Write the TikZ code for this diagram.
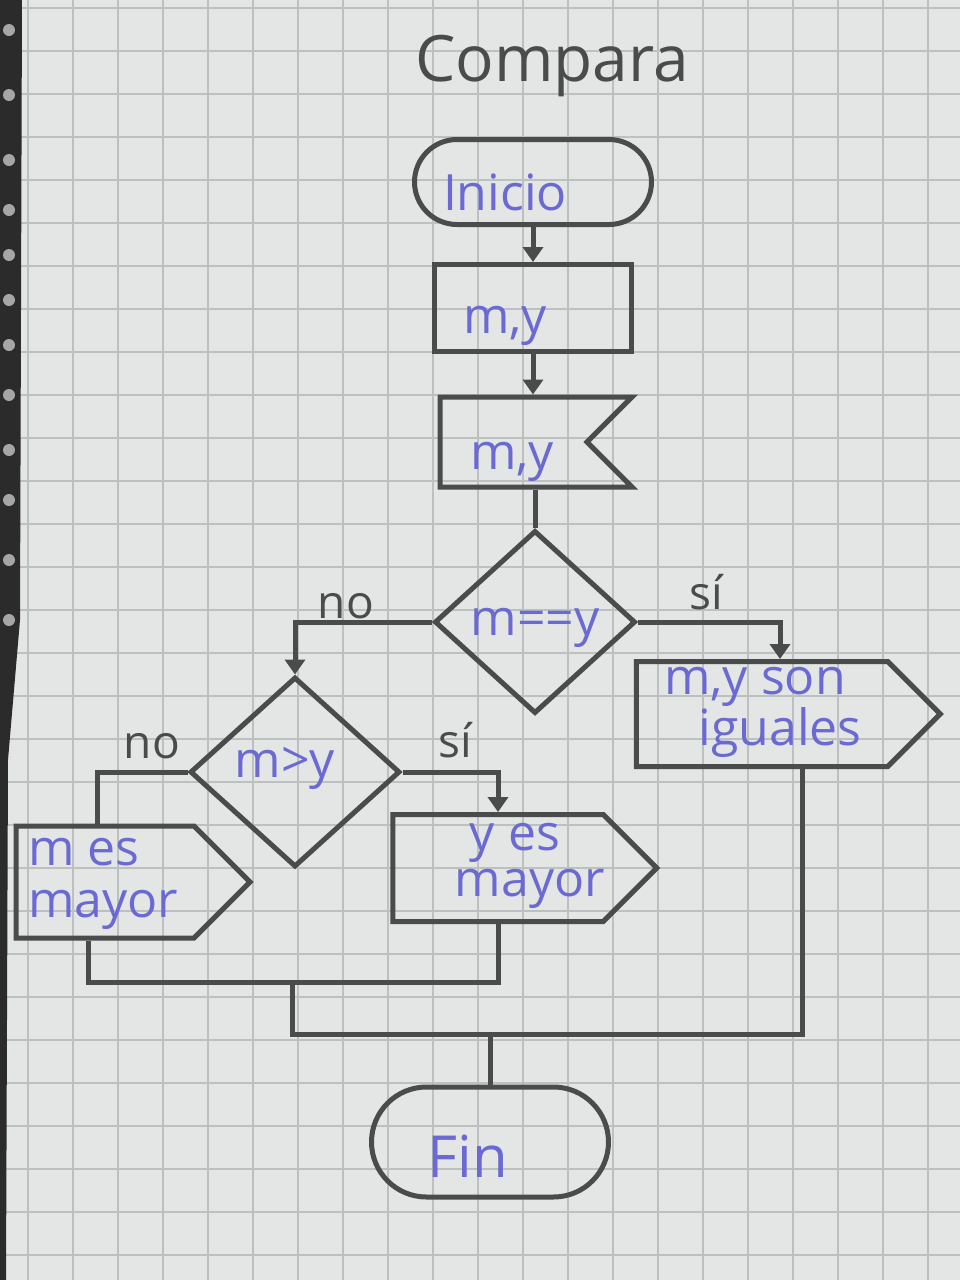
\documentclass[tikz,border=0pt]{standalone}
\usepackage{fontspec}
\setmainfont{Open Sans}
\usetikzlibrary{shapes.misc,shapes.geometric,shapes.symbols,arrows.meta,calc}
\definecolor{paper}{HTML}{E4E6E5}
\definecolor{gridc}{HTML}{BCC0C0}
\definecolor{ink}{HTML}{4A4C4C}
\definecolor{pen}{HTML}{6A6AD2}
\definecolor{cloth}{HTML}{2B2B2B}
\begin{document}
\begin{tikzpicture}[x=1pt,y=-1pt,
  shp/.style={draw=ink, line width=5pt, inner sep=0pt},
  term/.style={shp, rounded rectangle},
  boxs/.style={shp, rectangle},
  disps/.style={shp, signal, signal from=east, signal to=nowhere},
  outs/.style={shp, signal, signal to=east},
  dec/.style={shp, diamond},
  txt/.style={text=pen, font=\fontsize{50}{54}\selectfont, inner sep=0pt},
  lbl/.style={text=ink, font=\fontsize{46}{50}\selectfont, inner sep=0pt},
  flow/.style={draw=ink, line width=5pt},
  arr/.style={flow, -{Triangle[length=15pt,width=20pt]}},
]
% paper and grid
\fill[paper] (0,0) rectangle (960,1280);
\useasboundingbox (0,0) rectangle (960,1280);
\foreach \x in {28,73,...,958} \draw[gridc, line width=1.6pt] (\x,0) -- (\x,1280);
\foreach \y in {8,51,...,1280} \draw[gridc, line width=1.6pt] (0,\y) -- (960,\y);
\fill[cloth] (0,0) -- (22,0) -- (20,620) -- (8,760) -- (6,1280) -- (0,1280) -- cycle;
\foreach \y in {30,95,160,210,255,300,345,395,450,500,560,620} \fill[gray!70] (9,\y) circle (6);

% title
\node[text=ink, font=\fontsize{64}{66}\selectfont, inner sep=0pt] (title) at (552,66) {Compara};

% shapes
\node[term, minimum width=237pt, minimum height=85pt] (inicio) at (533,182) {};
\node[boxs, minimum width=197pt, minimum height=87pt] (in1) at (533,308) {};
\node[disps, minimum width=192pt, minimum height=90pt] (disp) at (513.5,442) {};
\node[dec, minimum width=201pt, minimum height=183pt] (d1) at (535,622) {};
\node[dec, minimum width=210pt, minimum height=190pt] (d2) at (295,772) {};
\node[outs, minimum width=234pt, minimum height=112pt] (o1) at (105,882) {};
\node[outs, minimum width=264pt, minimum height=107pt] (o2) at (498,868) {};
\node[outs, minimum width=304pt, minimum height=105pt] (o3) at (762,714) {};
\node[term, minimum width=237pt, minimum height=110pt] (fin) at (490,1142) {};

% texts
\node[txt] (tinicio) at (505,192) {Inicio};
\node[txt] (tin1) at (505,326) {m,y};
\node[txt] (tdisp) at (512,462) {m,y};
\node[txt] (td1) at (535,628) {m==y};
\node[txt] (td2) at (285,768) {m>y};
\node[txt, align=left, anchor=west, font=\fontsize{50}{52}\selectfont] (to1) at (28,884) {m es\\mayor};
\node[txt, align=center, font=\fontsize{50}{46}\selectfont] (to2) at (515,866) {y es\\\hspace*{30pt}mayor};
\node[txt, align=center, font=\fontsize{50}{48}\selectfont] (to3) at (755,712) {m,y son\\\hspace*{50pt}iguales};
\node[txt, font=\fontsize{58}{60}\selectfont] (tfin) at (468,1156) {Fin};

% labels
\node[lbl] (no1) at (346,606) {no};
\node[lbl] (si1) at (706,592) {sí};
\node[lbl] (no2) at (152,746) {no};
\node[lbl] (si2) at (455,740) {sí};

% connectors
\coordinate (j1) at (292,982);
\coordinate (j2) at (490,1034);
\draw[arr] (inicio.south) -- (in1.north);
\draw[arr] (in1.south) -- (in1.south |- disp.north);
\draw[flow] (d1.north |- disp.south) -- (d1.north);
\draw[arr] (d1.west) -| (d2.north);
\draw[arr] (d1.east) -| ([xshift=18pt]o3.north);
\draw[flow] (d2.west) -| ([xshift=-8pt]o1.north);
\draw[arr] (d2.east) -| (o2.north);
\draw[flow] ([xshift=-17pt]o1.south) |- (j1) -| (o2.south);
\draw[flow] (j1) |- (j2) -| ([xshift=40pt]o3.south);
\draw[flow] (j2) -- (fin.north);
\end{tikzpicture}
\end{document}
